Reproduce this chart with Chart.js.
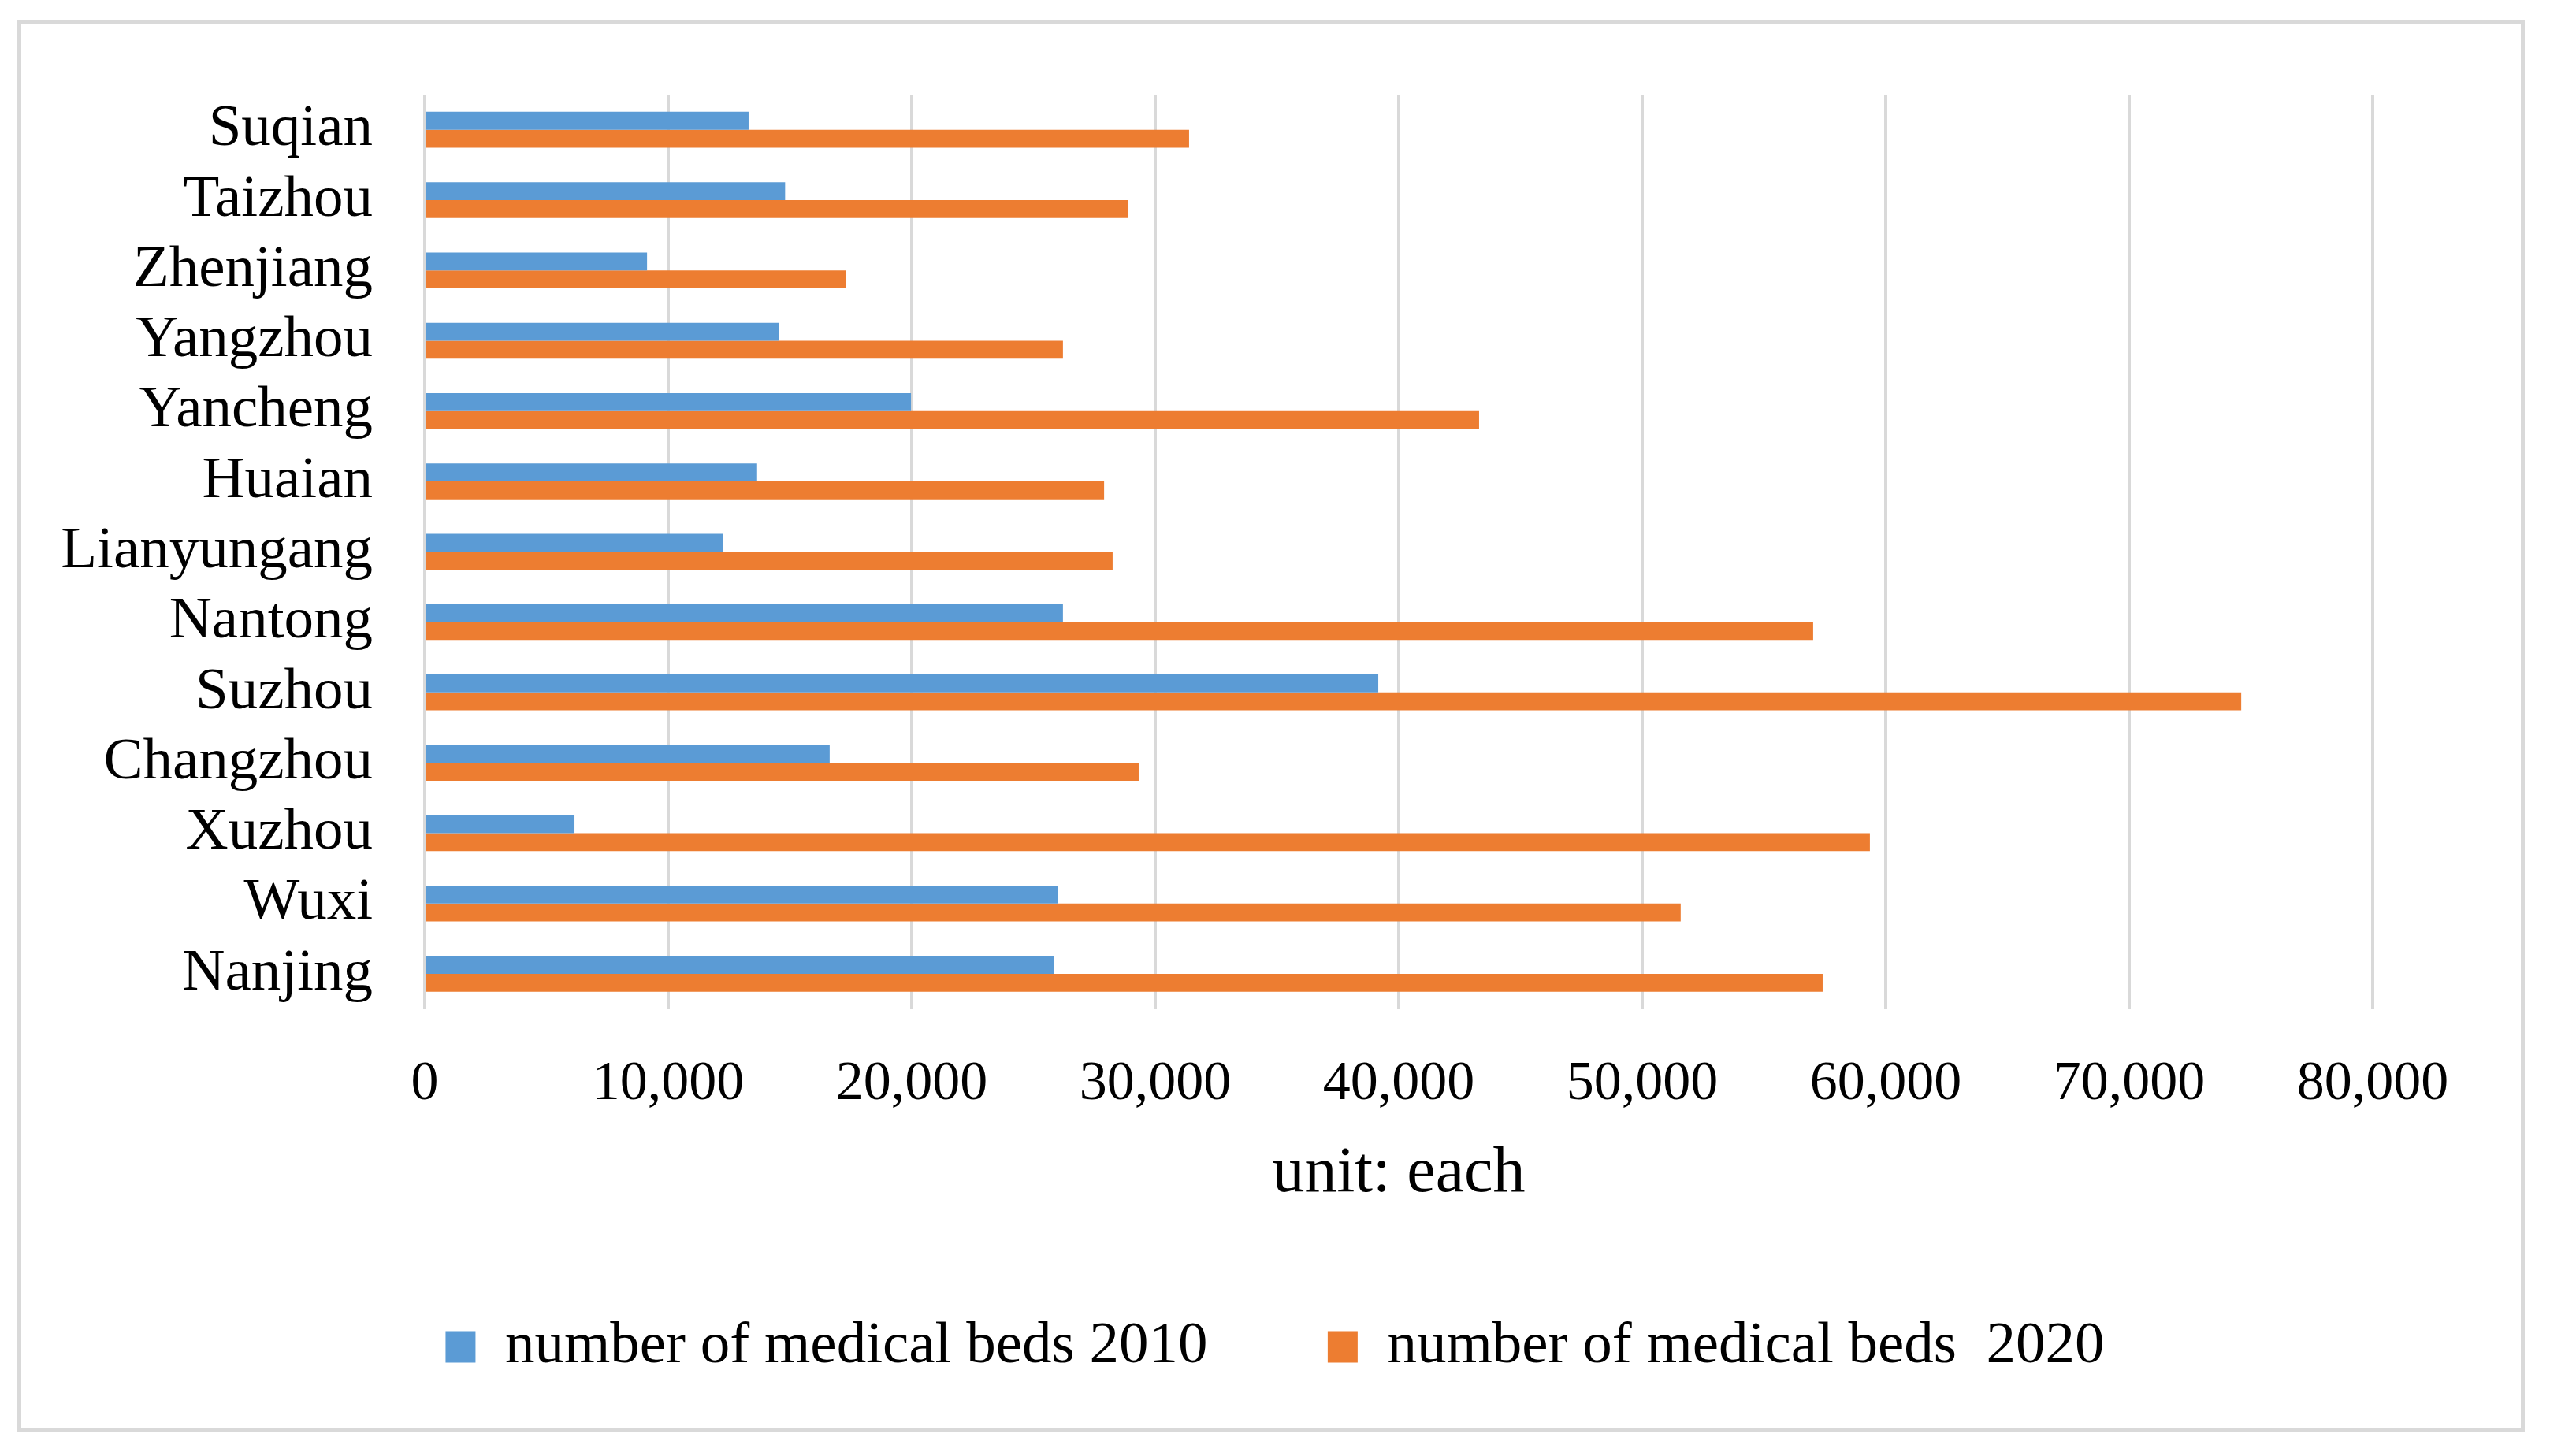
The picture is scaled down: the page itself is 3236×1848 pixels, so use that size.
<!DOCTYPE html>
<html>
<head>
<meta charset="utf-8">
<script src="https://cdn.jsdelivr.net/npm/chart.js@4.4.1/dist/chart.umd.min.js"></script>
<style>
    html, body { margin: 0; padding: 0; background: #fff; }
    #wrap { position: relative; width: 3236px; height: 1848px; }
    #frame {
        position: absolute; left: 22px; top: 25px; width: 3182px; height: 1793px;
        box-sizing: border-box; border: 5px solid #d9d9d9; pointer-events: none;
    }
</style>
</head>
<body>
<div id="wrap">
    <canvas id="bedsChart" width="3236" height="1848"></canvas>
    <div id="frame"></div>
</div>
<script>
// cities listed top to bottom as they appear on the chart
const cities = ['Suqian', 'Taizhou', 'Zhenjiang', 'Yangzhou', 'Yancheng', 'Huaian',
    'Lianyungang', 'Nantong', 'Suzhou', 'Changzhou', 'Xuzhou', 'Wuxi', 'Nanjing'];

const beds2010 = [13300, 14800, 9130, 14560, 19970, 13650, 12240, 26210, 39160, 16630, 6150, 25990, 25830];
const beds2020 = [31390, 28900, 17290, 26210, 43300, 27900, 28250, 57020, 74600, 29320, 59350, 51580, 57410];

const seriesNames = ['number of medical beds 2010', 'number of medical beds  2020'];
const xTicks = [0, 10000, 20000, 30000, 40000, 50000, 60000, 70000, 80000];

const serif = "'Liberation Serif', 'Times New Roman', serif";

// the legend in the reference is centred on the whole picture, not on the plot
const centreLegend = {
    id: 'centreLegend',
    afterLayout(chart) {
        if (chart.legend) {
            chart.legend.left = 0;
            chart.legend.right = chart.width;
        }
    }
};

const ctx = document.getElementById('bedsChart').getContext('2d');

new Chart(ctx, {
    type: 'bar',
    data: {
        labels: cities,
        datasets: [{
            label: seriesNames[0],
            data: beds2010,
            backgroundColor: '#5b9bd5',
            barPercentage: 1,
            categoryPercentage: 0.51
        }, {
            label: seriesNames[1],
            data: beds2020,
            backgroundColor: '#ed7d31',
            barPercentage: 1,
            categoryPercentage: 0.51
        }]
    },
    options: {
        indexAxis: 'y',
        responsive: false,
        animation: false,
        devicePixelRatio: 1,
        layout: {
            padding: { top: 120, right: 225, left: 0, bottom: 91 }
        },
        scales: {
            x: {
                min: xTicks[0],
                max: xTicks[xTicks.length - 1],
                afterBuildTicks: scale => {
                    scale.ticks = xTicks.map(v => ({ value: v }));
                },
                grid: { color: '#d9d9d9', lineWidth: 4, drawTicks: false },
                border: { display: false },
                ticks: {
                    padding: 54,
                    color: '#000',
                    font: { family: serif, size: 70 },
                    callback: v => v.toLocaleString('en-US')
                },
                title: {
                    display: true,
                    text: 'unit: each',
                    color: '#000',
                    font: { family: serif, size: 82 },
                    padding: { top: -31, bottom: 92 }
                }
            },
            y: {
                grid: { display: false, drawTicks: false },
                border: { display: false },
                ticks: {
                    autoSkip: false,
                    padding: 66,
                    color: '#000',
                    font: { family: serif, size: 75 }
                },
                afterFit: scale => {
                    scale.width = 539; // keeps the zero line where the reference has it
                }
            }
        },
        plugins: {
            legend: {
                position: 'bottom',
                labels: {
                    boxWidth: 38,
                    boxHeight: 40,
                    padding: 40,
                    color: '#000',
                    font: { family: serif, size: 75 },
                    generateLabels: chart => {
                        const items = Chart.defaults.plugins.legend.labels.generateLabels(chart);
                        // wider gap after the first entry, as in the reference
                        items[0].text += '\u00a0'.repeat(6);
                        return items;
                    }
                }
            },
            tooltip: { enabled: false }
        }
    },
    plugins: [centreLegend]
});
</script>
</body>
</html>
